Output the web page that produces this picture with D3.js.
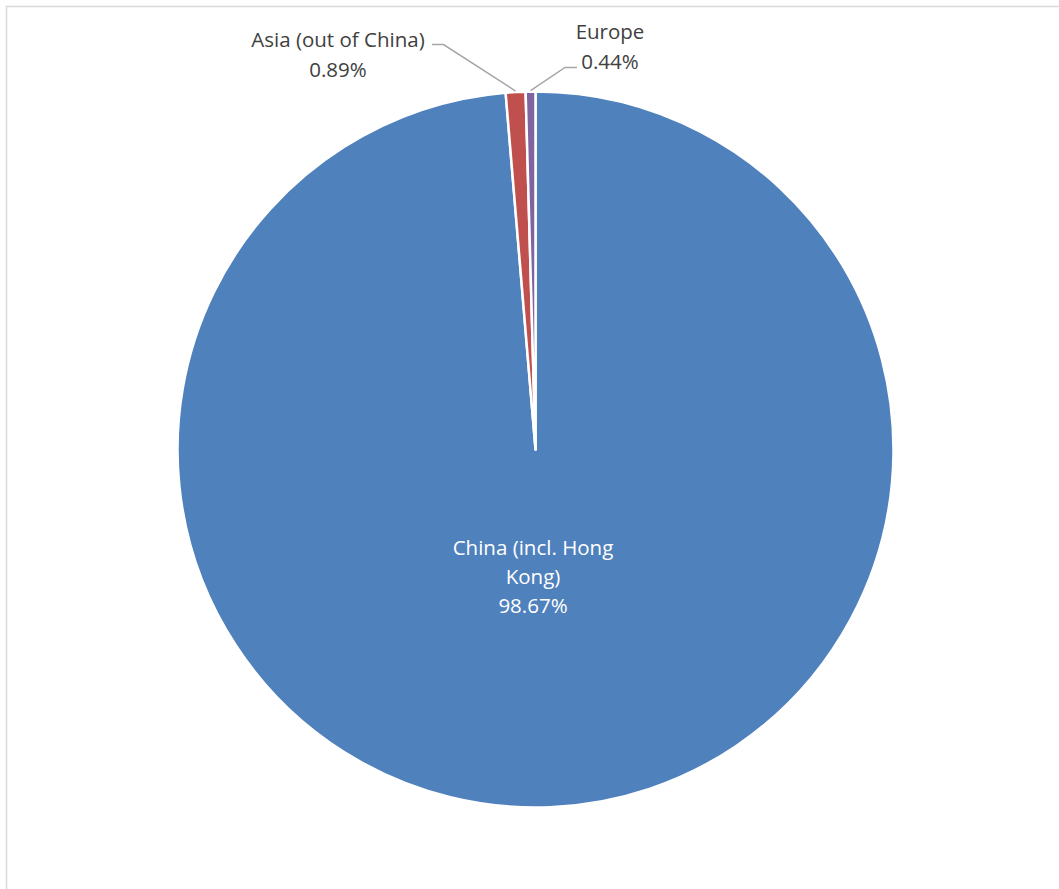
<!DOCTYPE html>
<html><head><meta charset="utf-8">
<script src="https://cdn.jsdelivr.net/npm/d3@7"></script>
<style>body{margin:0;background:#fff}svg{display:block}</style>
</head><body>
<script>
const categories = ["China (incl. Hong Kong)", "Asia (out of China)", "Europe"];
const values = [98.67, 0.89, 0.44];
const labelLines = [["China (incl. Hong", "Kong)", "98.67%"], ["Asia (out of China)", "0.89%"], ["Europe", "0.44%"]];
const colors = ["#4F81BD", "#C0504D", "#8064A2"];

const W = 1059, H = 889;
const cx = 535.5, cy = 449.5, R = 358;
const svg = d3.select("body").append("svg").attr("width", W).attr("height", H);
svg.append("rect").attr("x", 6.5).attr("y", 6.5).attr("width", W + 20).attr("height", H + 20)
  .attr("fill", "#fff").attr("stroke", "#d9d9d9").attr("stroke-width", 1.5);

const data = categories.map((c, i) => ({cat: c, value: values[i], lines: labelLines[i], color: colors[i]}));
const pie = d3.pie().value(d => d.value).sort(null);
const arc = d3.arc().innerRadius(0).outerRadius(R);
const arcs = pie(data);
const g = svg.append("g").attr("transform", `translate(${cx},${cy})`);
g.selectAll("path").data(arcs).enter().append("path")
  .attr("d", arc).attr("fill", d => d.data.color)
  .attr("stroke", "#fff").attr("stroke-width", 2.5).attr("stroke-linejoin", "round");

const font = "Open Sans, sans-serif";
const fs = 20.5;
const t0 = g.append("text").attr("text-anchor", "middle").attr("fill", "#fff")
  .style("font-family", font).style("font-size", fs + "px");
arcs[0].data.lines.forEach((l, i) => {
  t0.append("tspan").attr("x", 533 - cx).attr("y", 555 - cy + i * 29).text(l);
});

const outer = d3.arc().innerRadius(R + 1).outerRadius(R + 1);
const outside = [
  {i: 1, tx: 338, ty: [46.5, 76.5], bend: [443.5, 44.5], start: [432, 44.5]},
  {i: 2, tx: 610, ty: [39, 68.5], bend: [565, 67.5], start: [577, 67.5]}
];
outside.forEach(o => {
  const a = arcs[o.i];
  const p = outer.centroid(a);
  svg.append("polyline")
    .attr("points", [[o.start[0], o.start[1]], o.bend, [p[0] + cx, p[1] + cy]].map(q => q.join(",")).join(" "))
    .attr("fill", "none").attr("stroke", "#a6a6a6").attr("stroke-width", 1.5);
  const t = svg.append("text").attr("text-anchor", "middle").attr("fill", "#404040")
    .style("font-family", font).style("font-size", fs + "px");
  a.data.lines.forEach((l, k) => t.append("tspan").attr("x", o.tx).attr("y", o.ty[k]).text(l));
});
</script>
</body></html>
